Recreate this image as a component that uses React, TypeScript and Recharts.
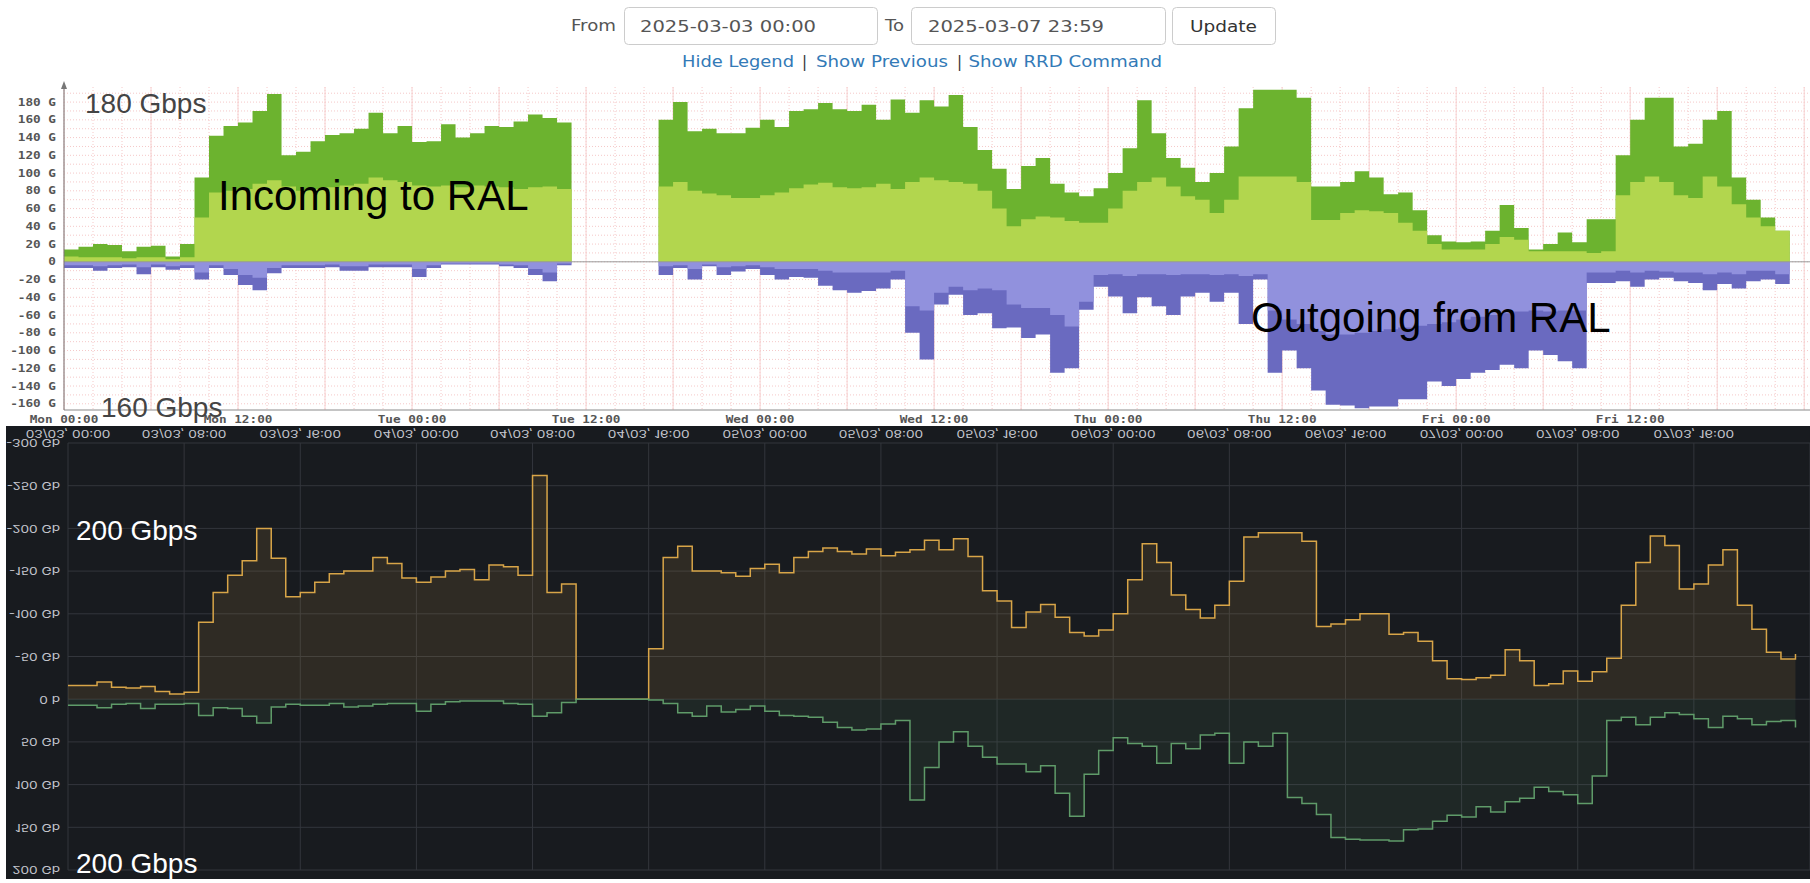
import React from "react";
import {
  AreaChart,
  Area,
  XAxis,
  YAxis,
  CartesianGrid,
  ReferenceLine
} from "recharts";

const N = null;

// one sample per hour, starting Mon 03/03 00:00
const hours = Array.from({ length: 120 }, (_, i) => i);

// upper graph (RRD style), Gbps
const rrdInTotal = [
  14, 17, 20, 19, 12, 17, 18, 6, 20, 95,
  142, 153, 157, 170, 189, 120, 124, 136, 143, 145,
  150, 168, 145, 153, 135, 136, 155, 140, 145, 153,
  152, 158, 166, 162, 157, 22, N, N, N, N,
  N, 160, 180, 147, 150, 145, 145, 151, 160, 152,
  170, 172, 179, 172, 170, 177, 160, 183, 168, 182,
  175, 188, 152, 126, 105, 82, 108, 117, 88, 78,
  74, 83, 100, 128, 182, 145, 117, 106, 90, 100,
  130, 173, 194, 194, 194, 185, 85, 85, 90, 102,
  95, 76, 78, 58, 30, 23, 22, 23, 35, 64,
  38, 14, 20, 33, 22, 48, 48, 120, 160, 185,
  185, 130, 133, 160, 170, 95, 70, 50, 35, 53
];
const rrdInLower = [
  6, 5, 5, 5, 4, 5, 5, 3, 5, 50,
  78, 80, 82, 88, 92, 85, 80, 82, 84, 86,
  88, 95, 92, 90, 86, 85, 86, 84, 86, 85,
  84, 82, 84, 85, 82, 10, N, N, N, N,
  N, 85, 90, 80, 77, 75, 72, 72, 75, 78,
  83, 87, 89, 84, 83, 84, 88, 82, 90, 95,
  92, 90, 88, 80, 60, 40, 48, 51, 50, 46,
  44, 44, 60, 80, 90, 95, 85, 74, 70, 55,
  70, 96, 96, 96, 96, 90, 47, 47, 55, 58,
  57, 55, 44, 35, 20, 14, 14, 14, 20, 28,
  25, 12, 12, 12, 12, 10, 12, 75, 90, 96,
  90, 75, 72, 96, 85, 65, 50, 40, 35, 32
];
const rrdOutTotal = [
  -7, -7, -10, -7, -6, -14, -6, -9, -7, -20,
  -7, -15, -26, -32, -13, -7, -7, -7, -6, -10,
  -10, -6, -6, -6, -17, -7, -3, -3, -3, -3,
  -5, -7, -15, -22, -4, -2, N, N, N, N,
  N, -15, -7, -20, -5, -15, -11, -8, -15, -20,
  -17, -18, -27, -32, -35, -33, -30, -20, -80, -110,
  -48, -37, -60, -58, -75, -74, -86, -82, -125, -120,
  -54, -28, -39, -58, -40, -50, -60, -39, -35, -45,
  -35, -70, -20, -125, -100, -120, -145, -161, -162, -165,
  -163, -163, -155, -155, -135, -140, -132, -125, -122, -116,
  -120, -100, -105, -112, -120, -24, -24, -22, -28, -20,
  -18, -22, -24, -32, -25, -30, -22, -20, -25, -24
];
const rrdOutInner = [
  -4, -4, -5, -4, -3, -6, -3, -5, -4, -12,
  -4, -8, -15, -18, -7, -4, -4, -4, -3, -5,
  -5, -3, -3, -3, -8, -4, -2, -2, -2, -2,
  -3, -4, -8, -12, -2, -1, N, N, N, N,
  N, -5, -4, -8, -3, -6, -5, -4, -6, -8,
  -8, -8, -10, -12, -12, -12, -12, -10, -50, -55,
  -35, -28, -32, -30, -32, -48, -52, -52, -60, -73,
  -45, -15, -14, -16, -14, -14, -15, -14, -14, -15,
  -14, -16, -14, -55, -65, -70, -78, -82, -82, -80,
  -78, -76, -74, -72, -70, -68, -65, -62, -60, -58,
  -56, -55, -56, -55, -55, -12, -12, -10, -12, -10,
  -11, -12, -12, -14, -12, -14, -10, -10, -14, -12
];

const rrdYTicks = [-160, -140, -120, -100, -80, -60, -40, -20, 0, 20, 40, 60, 80, 100, 120, 140, 160, 180];
const rrdXTicks = [0, 12, 24, 36, 48, 60, 72, 84, 96, 108];
const rrdXLabels = [
  "Mon 00:00", "Mon 12:00", "Tue 00:00", "Tue 12:00", "Wed 00:00",
  "Wed 12:00", "Thu 00:00", "Thu 12:00", "Fri 00:00", "Fri 12:00"
];

// lower graph (Grafana, shown upside down), Gb
const grafIn = [
  -16, -16, -20, -14, -13, -15, -9, -6, -8, -90,
  -125, -145, -162, -200, -165, -120, -125, -137, -147, -150,
  -150, -166, -159, -142, -137, -143, -150, -152, -140, -157,
  -155, -145, -262, -125, -135, 0, 0, 0, 0, 0,
  -59, -166, -179, -150, -150, -148, -144, -153, -158, -148,
  -166, -173, -177, -173, -170, -176, -168, -172, -175, -186,
  -175, -188, -167, -127, -115, -84, -102, -111, -96, -78,
  -74, -81, -100, -140, -182, -160, -122, -105, -95, -110,
  -138, -190, -195, -195, -195, -185, -85, -88, -93, -100,
  -100, -76, -78, -68, -45, -24, -23, -25, -28, -58,
  -45, -16, -18, -33, -21, -32, -48, -110, -160, -191,
  -180, -129, -135, -157, -175, -110, -82, -55, -47, -53
];
const grafOut = [
  7, 7, 10, 6, 5, 11, 6, 6, 5, 19,
  10, 11, 20, 28, 9, 6, 7, 7, 5, 9,
  8, 6, 5, 5, 14, 6, 3, 2, 2, 2,
  5, 6, 20, 16, 4, 0, 0, 0, 0, 0,
  1, 5, 16, 20, 8, 15, 12, 8, 14, 19,
  20, 21, 27, 33, 36, 35, 29, 25, 118, 80,
  50, 38, 55, 68, 76, 76, 85, 78, 110, 137,
  88, 60, 45, 52, 55, 75, 52, 58, 42, 40,
  75, 50, 55, 40, 115, 122, 135, 162, 164, 165,
  165, 166, 153, 152, 143, 136, 138, 126, 132, 120,
  116, 103, 108, 112, 122, 90, 25, 21, 30, 21,
  16, 18, 23, 33, 20, 23, 30, 26, 25, 33
];

const grafYTicks = [-300, -250, -200, -150, -100, -50, 0, 50, 100, 150, 200];
const grafXTicks = [0, 8, 16, 24, 32, 40, 48, 56, 64, 72, 80, 88, 96, 104, 112];
const grafXLabels = [
  "03/03, 00:00", "03/03, 08:00", "03/03, 16:00",
  "04/03, 00:00", "04/03, 08:00", "04/03, 16:00",
  "05/03, 00:00", "05/03, 08:00", "05/03, 16:00",
  "06/03, 00:00", "06/03, 08:00", "06/03, 16:00",
  "07/03, 00:00", "07/03, 08:00", "07/03, 16:00"
];

const steps = (from: number, to: number, by: number) => {
  const out: number[] = [];
  for (let v = from; v <= to; v += by) out.push(v);
  return out;
};
const rrdGridH = steps(-160, 190, 10);
const rrdGridV = steps(0, 120, 2);
const rrdGridMajorV = steps(0, 120, 6);

const rrdData = hours.map((h, i) => ({
  h,
  inTotal: rrdInTotal[i],
  inLower: rrdInLower[i],
  outTotal: rrdOutTotal[i],
  outInner: rrdOutInner[i]
}));

const grafData = hours.map((h, i) => ({
  h,
  incoming: grafIn[i],
  outgoing: grafOut[i]
}));

const rrdFont = {
  fontFamily: "'DejaVu Sans Mono', monospace",
  fontWeight: 700,
  fontSize: 10,
  fill: "#555"
};
const grafFont = {
  fontFamily: "Inter, 'Noto Sans', sans-serif",
  fontSize: 10.5,
  fill: "#c4c6ce"
};

const RrdYTick = (props: any) => {
  const { x, y, payload } = props;
  const v = payload.value;
  return (
    <g transform={`translate(${x - 8},${y})`}>
      <text transform="scale(1.27,1)" textAnchor="end" dy="0.35em" {...rrdFont}>
        {v === 0 ? "0" : `${v} G`}
      </text>
    </g>
  );
};

const RrdXTick = (props: any) => {
  const { x, y, payload } = props;
  return (
    <g transform={`translate(${x},${y + 13})`}>
      <text transform="scale(1.27,1)" textAnchor="middle" {...rrdFont}>
        {rrdXLabels[rrdXTicks.indexOf(payload.value)]}
      </text>
    </g>
  );
};

const GrafYTick = (props: any) => {
  const { x, y, payload } = props;
  const v = payload.value;
  return (
    <g transform={`translate(${x - 8},${y})`}>
      <text transform="scale(1.3,1)" textAnchor="end" dy="0.35em" {...grafFont}>
        {v === 0 ? "0 b" : `${v} Gb`}
      </text>
    </g>
  );
};

const GrafXTick = (props: any) => {
  const { x, y, payload } = props;
  return (
    <g transform={`translate(${x},${y + 13})`}>
      <text transform="scale(1.3,1)" textAnchor="middle" {...grafFont}>
        {grafXLabels[grafXTicks.indexOf(payload.value)]}
      </text>
    </g>
  );
};

const RrdChart = () => (
  <AreaChart
    width={1810}
    height={346}
    data={rrdData}
    margin={{ top: 7, right: 0, bottom: 0, left: 0 }}
  >
    <CartesianGrid
      horizontalValues={rrdGridH}
      verticalValues={rrdGridV}
      stroke="#f5c8c8"
      strokeDasharray="1 2"
    />
    <CartesianGrid horizontal={false} verticalValues={rrdGridMajorV} stroke="#f7d2d2" />
    <XAxis
      dataKey="h"
      type="number"
      domain={[0, 120.4]}
      allowDataOverflow
      ticks={rrdXTicks}
      interval={0}
      height={16}
      tickSize={0}
      tickMargin={0}
      tickLine={false}
      axisLine={{ stroke: "#8a8a8a" }}
      tick={<RrdXTick />}
    />
    <YAxis
      type="number"
      domain={[-167, 197]}
      allowDataOverflow
      ticks={rrdYTicks}
      interval={0}
      width={64}
      tickSize={0}
      tickMargin={0}
      tickLine={false}
      axisLine={{ stroke: "#777" }}
      tick={<RrdYTick />}
    />
    <Area type="stepAfter" dataKey="outTotal" baseValue={0} stroke="none" fill="#6a6ac0" fillOpacity={1} isAnimationActive={false} />
    <Area type="stepAfter" dataKey="outInner" baseValue={0} stroke="none" fill="#9191dd" fillOpacity={1} isAnimationActive={false} />
    <Area type="stepAfter" dataKey="inTotal" baseValue={0} stroke="none" fill="#6cb32f" fillOpacity={1} isAnimationActive={false} />
    <Area type="stepAfter" dataKey="inLower" baseValue={0} stroke="none" fill="#b2d64e" fillOpacity={1} isAnimationActive={false} />
    <ReferenceLine y={0} stroke="#9a9a9a" />
  </AreaChart>
);

const GrafanaChart = () => (
  <AreaChart
    width={1804}
    height={453}
    data={grafData}
    margin={{ top: 9, right: 0, bottom: 0, left: 0 }}
  >
    <CartesianGrid stroke="#33363c" />
    <XAxis
      dataKey="h"
      type="number"
      domain={[0, 120]}
      allowDataOverflow
      ticks={grafXTicks}
      interval={0}
      height={17}
      tickSize={0}
      tickMargin={0}
      tickLine={false}
      axisLine={false}
      tick={<GrafXTick />}
    />
    <YAxis
      type="number"
      domain={[-300, 200]}
      allowDataOverflow
      ticks={grafYTicks}
      interval={0}
      width={62}
      tickSize={0}
      tickMargin={0}
      tickLine={false}
      axisLine={false}
      tick={<GrafYTick />}
    />
    <Area type="stepAfter" dataKey="incoming" baseValue={0} stroke="#d8a548" strokeWidth={1.5} fill="#d8a548" fillOpacity={0.12} isAnimationActive={false} />
    <Area type="stepAfter" dataKey="outgoing" baseValue={0} stroke="#5f9b69" strokeWidth={1.5} fill="#5f9b69" fillOpacity={0.1} isAnimationActive={false} />
  </AreaChart>
);

const uiFont = "'DejaVu Sans', Verdana, sans-serif";
const noteFont = "'Liberation Sans', Arial, sans-serif";

export default function App() {
  return (
    <div style={{ position: "absolute", left: 0, top: 0, width: 1810, height: 883, background: "#fff", overflow: "hidden" }}>
      <div style={{ position: "absolute", left: 0, top: 80 }}>
        <RrdChart />
      </div>
      <div
        style={{
          position: "absolute",
          left: 6,
          top: 426,
          width: 1804,
          height: 453,
          background: "#181b1f",
          transform: "scaleY(-1)"
        }}
      >
        <GrafanaChart />
      </div>
      <svg
        width={1810}
        height={883}
        style={{ position: "absolute", left: 0, top: 0, pointerEvents: "none" }}
      >
        <text x={571} y={30.5} fontFamily={uiFont} fontSize={15} fill="#555" textLength={45} lengthAdjust="spacingAndGlyphs">From</text>
        <rect x={624.5} y={7.5} width={253} height={37} rx={4} fill="#fff" stroke="#ccc" />
        <text x={640} y={32} fontFamily={uiFont} fontSize={16} fill="#555" textLength={176} lengthAdjust="spacingAndGlyphs">2025-03-03 00:00</text>
        <text x={885} y={30.5} fontFamily={uiFont} fontSize={15} fill="#555" textLength={19} lengthAdjust="spacingAndGlyphs">To</text>
        <rect x={911.5} y={7.5} width={254} height={37} rx={4} fill="#fff" stroke="#ccc" />
        <text x={928} y={32} fontFamily={uiFont} fontSize={16} fill="#555" textLength={176} lengthAdjust="spacingAndGlyphs">2025-03-07 23:59</text>
        <rect x={1172.5} y={7.5} width={103} height={37} rx={4} fill="#fff" stroke="#ccc" />
        <text x={1190} y={32} fontFamily={uiFont} fontSize={16} fill="#333" textLength={67} lengthAdjust="spacingAndGlyphs">Update</text>

        <text x={682} y={66.5} fontFamily={uiFont} fontSize={15} fill="#337ab7" textLength={112} lengthAdjust="spacingAndGlyphs">Hide Legend</text>
        <text x={802} y={66.5} fontFamily={uiFont} fontSize={15} fill="#333">|</text>
        <text x={816} y={66.5} fontFamily={uiFont} fontSize={15} fill="#337ab7" textLength={132} lengthAdjust="spacingAndGlyphs">Show Previous</text>
        <text x={957} y={66.5} fontFamily={uiFont} fontSize={15} fill="#333">|</text>
        <text x={968.5} y={66.5} fontFamily={uiFont} fontSize={15} fill="#337ab7" textLength={193.5} lengthAdjust="spacingAndGlyphs">Show RRD Command</text>

        <path d="M61 89 L64 81 L67 89 Z" fill="#777" />

        <text x={85} y={113} fontFamily={noteFont} fontSize={28} fill="#444">180 Gbps</text>
        <text x={101} y={417} fontFamily={noteFont} fontSize={28} fill="#444">160 Gbps</text>
        <text x={218} y={210} fontFamily={noteFont} fontSize={42} fill="#000">Incoming to RAL</text>
        <text x={1251} y={332} fontFamily={noteFont} fontSize={42} fill="#000">Outgoing from RAL</text>
        <text x={76} y={540} fontFamily={noteFont} fontSize={28} fill="#fff">200 Gbps</text>
        <text x={76} y={873} fontFamily={noteFont} fontSize={28} fill="#fff">200 Gbps</text>
      </svg>
    </div>
  );
}
